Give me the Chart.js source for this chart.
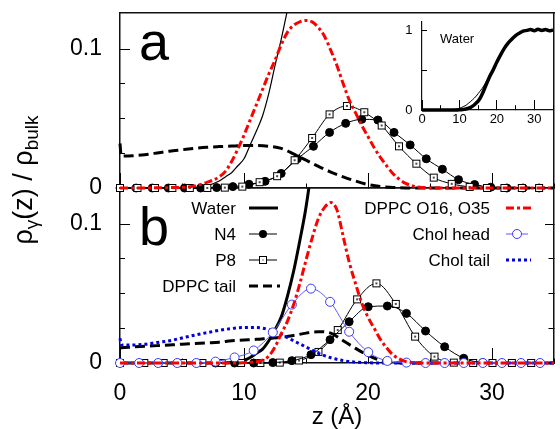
<!DOCTYPE html>
<html><head><meta charset="utf-8">
<script src="https://cdn.jsdelivr.net/npm/chart.js@4.4.1/dist/chart.umd.min.js"></script>
<style>
html,body{margin:0;padding:0;background:#fff;overflow:hidden;width:560px;height:429px}
#wrap{position:relative;width:560px;height:429px;overflow:hidden;background:#fff}
canvas{position:absolute}
#cb{left:0;top:180px;width:560px;height:260px}
#ca{left:0;top:0;width:560px;height:210px}
#ci{left:390px;top:14px;width:170px;height:116px}
#ov{position:absolute;left:0;top:0}
#ov text{font-family:"Liberation Sans",Arial,Helvetica,sans-serif;fill:#000}
</style></head><body>
<div id="wrap">
<canvas id="cb" width="560" height="260"></canvas>
<canvas id="ca" width="560" height="210"></canvas>
<canvas id="ci" width="170" height="116"></canvas>
<svg id="ov" width="560" height="429" xmlns="http://www.w3.org/2000/svg">
  <text x="139" y="60" font-size="54">a</text>
  <text x="139" y="245" font-size="54">b</text>
  <text transform="translate(32,180) rotate(-90)" text-anchor="middle" font-size="27">ρ<tspan dy="6" font-size="19">γ</tspan><tspan dy="-6">(z) / ρ</tspan><tspan dy="6" font-size="19">bulk</tspan></text>
  <text x="440" y="43" font-size="13">Water</text>
  <!-- legend -->
  <text x="236" y="214" font-size="17" text-anchor="end">Water</text>
  <text x="236" y="240" font-size="17" text-anchor="end">N4</text>
  <text x="236" y="266" font-size="17" text-anchor="end">P8</text>
  <text x="236" y="292" font-size="17" text-anchor="end">DPPC tail</text>
  <text x="490" y="214" font-size="17" text-anchor="end">DPPC O16, O35</text>
  <text x="490" y="240" font-size="17" text-anchor="end">Chol head</text>
  <text x="490" y="266" font-size="17" text-anchor="end">Chol tail</text>
  <line x1="249" y1="208" x2="278" y2="208" stroke="#000" stroke-width="3"/>
  <line x1="249" y1="234" x2="277" y2="234" stroke="#000" stroke-width="1"/>
  <circle cx="263" cy="234" r="4" fill="#000"/>
  <line x1="249" y1="260" x2="277" y2="260" stroke="#000" stroke-width="1"/>
  <rect x="259.5" y="256.5" width="7" height="7" fill="#fff" stroke="#000" stroke-width="1"/>
  <rect x="262.5" y="259.5" width="1" height="1" fill="#000"/>
  <line x1="249" y1="286" x2="280" y2="286" stroke="#000" stroke-width="3" stroke-dasharray="9,5"/>
  <line x1="506" y1="208" x2="532" y2="208" stroke="#ff0000" stroke-width="3" stroke-dasharray="8,3,3,3"/>
  <line x1="506" y1="234" x2="528" y2="234" stroke="#5b5bff" stroke-width="1"/>
  <circle cx="517" cy="234" r="4.5" fill="#fff" stroke="#3b3bff" stroke-width="1"/>
  <line x1="506" y1="260" x2="531" y2="260" stroke="#0000e0" stroke-width="3" stroke-dasharray="3,3"/>
</svg>
</div>
<script>
// ---------------- data ----------------
const zWater = [0,2,4,6,7,8,8.5,9,9.5,10,10.5,11,11.5,12,12.5,13,13.5,14,14.5,15,15.5,16,17,18,19,20,21,22,23,24,25,26,27,28,29,30,31,32,33,34,35];
const waterA = [0,0,0,0,0.0015,0.005,0.008,0.011,0.016,0.021,0.031,0.041,0.052,0.068,0.088,0.107,0.128,0.15,0.175,0.205,0.235,0.265,0.34,0.43,0.51,0.60,0.69,0.77,0.835,0.885,0.93,0.96,0.985,0.995,1.005,0.99,1.01,0.995,1.005,0.99,1.0];
const waterB = [0,0,0,0,0,0,0,0.0005,0.001,0.002,0.004,0.007,0.010,0.016,0.024,0.033,0.048,0.066,0.088,0.112,0.145,0.19,0.30,0.41,0.50,0.60,0.69,0.77,0.835,0.885,0.93,0.96,0.985,0.995,1.005,0.99,1.01,0.995,1.005,0.99,1.0];

const zRed = [0,5,6,7,8,8.5,9,9.5,10,10.5,11,11.5,12,12.5,13,13.5,14,14.5,15,15.5,16,16.5,17,17.5,18,18.5,19,19.5,20,20.5,21,21.5,22,22.5,23,23.5,24,25,35];
const redA = [0,0.0005,0.0015,0.004,0.008,0.012,0.019,0.028,0.038,0.049,0.060,0.071,0.082,0.092,0.103,0.112,0.117,0.1195,0.1205,0.1195,0.1155,0.109,0.099,0.088,0.075,0.063,0.054,0.045,0.037,0.029,0.022,0.016,0.0105,0.0065,0.0035,0.0018,0.0008,0,0];
const redB = [0,0,0,0,0,0,0,0,0.0002,0.0005,0.001,0.002,0.005,0.0115,0.021,0.030,0.042,0.057,0.074,0.090,0.104,0.112,0.1155,0.110,0.091,0.072,0.057,0.043,0.033,0.025,0.017,0.011,0.006,0.003,0.0012,0.0004,0,0,0];

const zTail = [0,0.1,1,2,3,4,5,6,7,8,9,10,11,12,13,14,15,16,17,18,19,20,21,22,23,35];
const tailA = [0.032,0.023,0.0232,0.024,0.0252,0.0265,0.0275,0.0285,0.0293,0.0298,0.0302,0.0305,0.0305,0.030,0.0285,0.0245,0.020,0.0155,0.0115,0.008,0.005,0.0025,0.001,0.0004,0,0];
const tailB = [0.011,0.011,0.0115,0.012,0.0125,0.013,0.0135,0.014,0.0145,0.015,0.016,0.0165,0.017,0.0178,0.0185,0.0198,0.0215,0.0225,0.0215,0.016,0.0105,0.0055,0.002,0.0005,0,0];
const cholTail = [0.0178,0.013,0.013,0.0135,0.0148,0.016,0.018,0.020,0.0218,0.0235,0.0248,0.0255,0.0255,0.024,0.0205,0.016,0.0115,0.007,0.0038,0.0017,0.0006,0.0002,0,0,0,0];

const zN4a = [0,1.3,2.6,3.9,5.2,6.5,7.8,9.1,10.4,11.7,13.0,14.3,15.6,16.9,18.2,19.5,20.8,22.1,23.4,24.7,26.0,27.3,28.6,29.9,31.2,32.5,33.8];
const n4a  = [0,0,0,0,0,0,0.0003,0.001,0.0027,0.0048,0.0105,0.021,0.030,0.040,0.0465,0.0494,0.0489,0.040,0.031,0.021,0.0135,0.006,0.0025,0.0006,0,0,0];
const zP8a = [0,1.41,2.82,4.22,5.63,7.04,8.45,9.86,11.26,12.67,14.08,15.49,16.9,18.3,19.7,21.1,22.5,23.9,25.3,26.75,28.2,29.6,31.0,32.4,33.8];
const p8a  = [0,0,0,0,0,0,0.0003,0.001,0.0042,0.0085,0.020,0.036,0.053,0.059,0.0545,0.045,0.030,0.0175,0.0075,0.003,0.0008,0,0,0,0];

const zMarkB = [0,1.54,3.08,4.62,6.16,7.7,9.24,10.78,12.32,13.86,15.4,16.94,18.48,20.02,21.56,23.1,24.64,26.18,27.72,29.26,30.8,32.34,33.88];
const n4b      = [0,0,0,0,0,0,0,0,0.0003,0.0017,0.006,0.0168,0.0297,0.0405,0.041,0.0357,0.023,0.0117,0.0034,0.0003,0,0,0];
const cholHead = [0,0,0,0,0,0.001,0.004,0.009,0.022,0.042,0.0535,0.044,0.0225,0.0078,0.0015,0.0003,0,0,0,0,0,0,0];
const zP8b = [0,1.96,3.52,5.08,6.64,8.2,9.76,11.32,12.88,14.44,16.0,17.56,19.12,20.68,22.24,23.8,25.36,26.92,28.48,30.04,31.6,33.16];
const p8b  = [0,0,0,0,0,0,0,0,0.0003,0.0018,0.008,0.0237,0.0458,0.0573,0.0425,0.019,0.0046,0.0003,0,0,0,0];

const xTicks  = [0,5,10,15,20,25,30,35];
const xLabels = ['0','','10','','20','','30',''];
const yTicks  = [0,0.025,0.05,0.075,0.1];
const yLabels = ['0','','','','0.1'];
const insetYTicks  = [0,0.5,1];
const insetYLabels = ['0','','1'];

// ---------------- setup ----------------
const FONT = '"Liberation Sans", Arial, Helvetica, sans-serif';
Chart.defaults.font.family = FONT;
Chart.defaults.color = '#000';

function pts(xs, ys) { return xs.map((x, i) => ({x: x, y: ys[i]})); }

const sq = document.createElement('canvas'); sq.width = 10; sq.height = 10;
(function () {
  const g = sq.getContext('2d');
  g.fillStyle = '#fff'; g.fillRect(1, 1, 8, 8);
  g.strokeStyle = '#000'; g.lineWidth = 1; g.strokeRect(1.5, 1.5, 7, 7);
  g.fillStyle = 'rgba(0,0,0,0.7)'; g.fillRect(4, 4, 2, 2);
})();

const CLIP = {left: 10, top: 0, right: 10, bottom: 10};
const AXC = '#111';

function zeroPad(s) { s.paddingLeft = 0; s.paddingRight = 0; s.paddingTop = 0; s.paddingBottom = 0; }

function xAxis(o) {
  return {
    type: 'linear', position: 'bottom', min: 0, max: 35, weight: 0,
    afterBuildTicks: s => { s.ticks = o.ticks.map(v => ({value: v})); },
    afterFit: s => { s.height = o.h; zeroPad(s); },
    ticks: {display: !!o.labels, autoSkip: false, maxRotation: 0, minRotation: 0,
            callback: (v, i) => (o.labels ? o.labels[i] : ''), padding: o.pad || 0,
            font: {size: o.fs || 12}, color: '#000'},
    grid: {display: true, drawOnChartArea: false, drawTicks: true, tickLength: -o.major,
           tickColor: '#000', tickWidth: 1,
           tickBorderDash: c => (c.tick && o.isMajor(c.tick.value)) ? [] : [o.minor, 200]},
    border: {display: true, color: AXC, width: o.bw},
    title: o.title || {display: false}
  };
}
function yAxis(o) {
  return {
    type: 'linear', position: o.pos, min: o.min, max: o.max,
    afterBuildTicks: s => { s.ticks = o.ticks.map(v => ({value: v})); },
    afterFit: s => { s.width = o.w; zeroPad(s); },
    ticks: {display: !!o.labels, autoSkip: false, callback: (v, i) => (o.labels ? o.labels[i] : ''),
            padding: o.pad || 0, font: {size: o.fs || 12}, color: '#000'},
    grid: {display: o.showTicks !== false, drawOnChartArea: false, drawTicks: true, tickLength: -o.major,
           tickColor: '#000', tickWidth: 1,
           tickBorderDash: c => {
             if (c.tick && o.isMajor(c.tick.value)) return [];
             return o.pos === 'left' ? [0, o.major + 1 - o.minor, o.minor, 200] : [o.minor, 200];
           }},
    border: {display: true, color: AXC, width: o.bw}
  };
}
function topBorder(bw) {
  return {type: 'linear', position: 'top', min: 0, max: 35,
    afterFit: s => { s.height = 0; zeroPad(s); },
    ticks: {display: false}, grid: {display: false},
    border: {display: true, color: AXC, width: bw}};
}
const isMajX = v => v % 10 === 0;
const isMajY = v => v === 0 || Math.abs(v - 0.1) < 1e-9;
const Y_MAX = 0.1259;

function opts(scales, pad) {
  return {
    responsive: false, animation: false, events: [],
    layout: {padding: pad},
    plugins: {legend: {display: false}, tooltip: {enabled: false}},
    scales: scales,
    elements: {line: {cubicInterpolationMode: 'monotone', borderCapStyle: 'butt', fill: false},
               point: {radius: 0}}
  };
}
function lineDs(label, data, color, width, dash) {
  return {label: label, data: data, borderColor: color, borderWidth: width, borderDash: dash || [],
          pointRadius: 0, clip: CLIP, fill: false};
}
function markDs(label, data, color, style, r, bg, pbc) {
  return {label: label, data: data, borderColor: color, borderWidth: 1, pointStyle: style,
          pointRadius: r, pointBackgroundColor: bg, pointBorderColor: pbc || color,
          pointBorderWidth: 1, clip: CLIP, fill: false};
}

// ---------------- panel b ----------------
new Chart(document.getElementById('cb'), {
  type: 'line',
  data: {datasets: [
    lineDs('DPPC O16, O35', pts(zRed, redB), '#ff0000', 3, [8, 3, 3, 3]),
    markDs('Chol head', pts(zMarkB, cholHead), '#5b5bff', 'circle', 4.5, '#fff', '#3b3bff'),
    lineDs('Chol tail', pts(zTail, cholTail), '#0000e0', 3, [3, 3]),
    markDs('N4', pts(zMarkB, n4b), '#000', 'circle', 4, '#000'),
    markDs('P8', pts(zP8b, p8b), '#000', sq, 5, '#fff'),
    lineDs('DPPC tail', pts(zTail, tailB), '#000', 3, [10, 5]),
    lineDs('Water', pts(zWater, waterB), '#000', 3)
  ]},
  options: opts({
    x: xAxis({ticks: xTicks, labels: xLabels, h: 77, major: 15, minor: 5, bw: 1.5, pad: 32, fs: 23,
              isMajor: isMajX,
              title: {display: true, text: 'z (Å)', font: {size: 24}, padding: {top: 0, bottom: 8}, color: '#000'}}),
    xTop: topBorder(1.5),
    y: yAxis({pos: 'left', min: 0, max: Y_MAX, ticks: yTicks, labels: yLabels, w: 120, major: 10, minor: 6,
              pad: 28, fs: 23, bw: 1.5, isMajor: isMajY}),
    yR: yAxis({pos: 'right', min: 0, max: Y_MAX, ticks: yTicks, labels: null, w: 0, major: 9, minor: 6,
               bw: 1.5, isMajor: isMajY})
  }, {top: 8, right: 2, left: 0, bottom: 0})
});

// ---------------- panel a ----------------
new Chart(document.getElementById('ca'), {
  type: 'line',
  data: {datasets: [
    lineDs('DPPC O16, O35', pts(zRed, redA), '#ff0000', 3, [8, 3, 3, 3]),
    markDs('P8', pts(zP8a, p8a), '#000', sq, 5, '#fff'),
    markDs('N4', pts(zN4a, n4a), '#000', 'circle', 4, '#000'),
    lineDs('DPPC tail', pts(zTail, tailA), '#000', 3, [10, 5]),
    lineDs('Water', pts(zWater, waterA), '#000', 1.2)
  ]},
  options: opts({
    x: xAxis({ticks: xTicks, labels: null, h: 22, major: 15, minor: 5, bw: 1.5, isMajor: isMajX}),
    xTop: topBorder(1.5),
    y: yAxis({pos: 'left', min: 0, max: Y_MAX, ticks: yTicks, labels: yLabels, w: 120, major: 10, minor: 6,
              pad: 28, fs: 23, bw: 1.5, isMajor: isMajY}),
    yR: yAxis({pos: 'right', min: 0, max: Y_MAX, ticks: yTicks, labels: null, w: 0, major: 9, minor: 6,
               bw: 1.5, isMajor: isMajY, showTicks: false})
  }, {top: 13, right: 2, left: 0, bottom: 0})
});

// ---------------- inset ----------------
new Chart(document.getElementById('ci'), {
  type: 'line',
  data: {datasets: [
    lineDs('Water (a)', pts(zWater, waterA), '#000', 1),
    lineDs('Water (b)', pts(zWater, waterB), '#000', 3.5)
  ]},
  options: opts({
    x: xAxis({ticks: xTicks, labels: xLabels, h: 20, major: 10, minor: 5, bw: 1.2, pad: 11.7, fs: 13,
              isMajor: isMajX}),
    y: yAxis({pos: 'left', min: 0, max: 1.1, ticks: insetYTicks, labels: insetYLabels, w: 32, major: 5, minor: 5,
              pad: 14.5, fs: 13, bw: 1.2, isMajor: v => true})
  }, {top: 8, right: 7, left: 0, bottom: 0})
});
</script>
</body></html>
